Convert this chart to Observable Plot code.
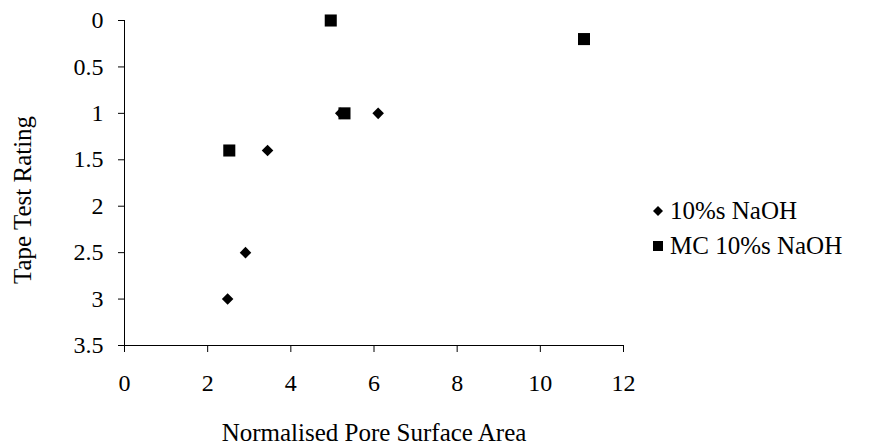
<!DOCTYPE html>
<html><head><meta charset="utf-8">
<script src="https://cdn.jsdelivr.net/npm/d3@7"></script>
<script src="https://cdn.jsdelivr.net/npm/@observablehq/plot@0.6"></script>
<style>
body{margin:0;background:#fff;}
#wrap{position:relative;width:874px;height:447px;font-family:"Liberation Serif",serif;color:#000;}
#legend{position:absolute;left:652px;top:193px;font-size:25px;line-height:35px;font-family:"Liberation Serif",serif;}
.item{display:flex;align-items:center;white-space:nowrap;}
.item svg{margin-right:6px;}
</style></head><body><div id="wrap"><div id="legend"></div></div>
<script>
const seriesNames = ["10%s NaOH", "MC 10%s NaOH"];
const naohX = [2.48, 2.91, 3.44, 5.2, 6.1];
const naohY = [3, 2.5, 1.4, 1, 1];
const mcX = [4.96, 11.05, 5.29, 2.52];
const mcY = [0, 0.2, 1, 1.4];
const xTicks = [0, 2, 4, 6, 8, 10, 12];
const yTicks = [0, 0.5, 1, 1.5, 2, 2.5, 3, 3.5];
const xLabel = "Normalised Pore Surface Area";
const yLabel = "Tape Test Rating";

const naoh = naohX.map((x, i) => ({x, y: naohY[i], s: seriesNames[0]}));
const mc = mcX.map((x, i) => ({x, y: mcY[i], s: seriesNames[1]}));
const serif = '"Liberation Serif", serif';

const chart = Plot.plot({
  width: 874, height: 447,
  marginLeft: 124, marginRight: 251, marginTop: 20, marginBottom: 102,
  style: {background: "white", color: "#000", fontFamily: serif, fontSize: "24px"},
  x: {domain: [0, 12]},
  y: {domain: [0, 3.5], reverse: true},
  marks: [
    Plot.ruleX([0], {stroke: "#000", strokeWidth: 1}),
    Plot.ruleY([3.5], {stroke: "#000", strokeWidth: 1}),
    Plot.axisX({ticks: xTicks, tickSize: 7, tickPadding: 21, tickFormat: d => String(d), fontSize: 24, fontFamily: serif, label: null}),
    Plot.axisY({ticks: yTicks, tickSize: 6, tickPadding: 15, tickFormat: d => String(d), fontSize: 24, fontFamily: serif, label: null}),
    Plot.text([xLabel], {text: d => d, frameAnchor: "bottom", textAnchor: "middle", lineAnchor: "middle", dy: 87, fontSize: 25, fontFamily: serif, fill: "#000"}),
    Plot.text([yLabel], {text: d => d, frameAnchor: "left", textAnchor: "middle", lineAnchor: "middle", rotate: -90, dx: -102, dy: 17, fontSize: 25, fontFamily: serif, fill: "#000"}),
    Plot.dot(naoh, {x: "x", y: "y", symbol: () => "diamond2", r: 5.2, fill: "#000", stroke: "none"}),
    Plot.dot(mc, {x: "x", y: "y", symbol: () => "square", r: 6.8, fill: "#000", stroke: "none"})
  ]
});
const wrap = document.getElementById("wrap");
wrap.insertBefore(chart, wrap.firstChild);
chart.style.position = "absolute"; chart.style.left = "0"; chart.style.top = "0";
chart.querySelectorAll("text").forEach(t => { t.style.fontFamily = serif; });

const legend = document.getElementById("legend");
const shapes = [
  '<svg width="12" height="12"><path d="M6,1 L11,6 L6,11 L1,6Z" fill="#000"/></svg>',
  '<svg width="12" height="12"><rect x="1" y="1" width="10" height="10" fill="#000"/></svg>'
];
seriesNames.forEach((n, i) => {
  const d = document.createElement("div");
  d.className = "item";
  d.innerHTML = shapes[i] + "<span>" + n + "</span>";
  legend.appendChild(d);
});
</script>
</body></html>
